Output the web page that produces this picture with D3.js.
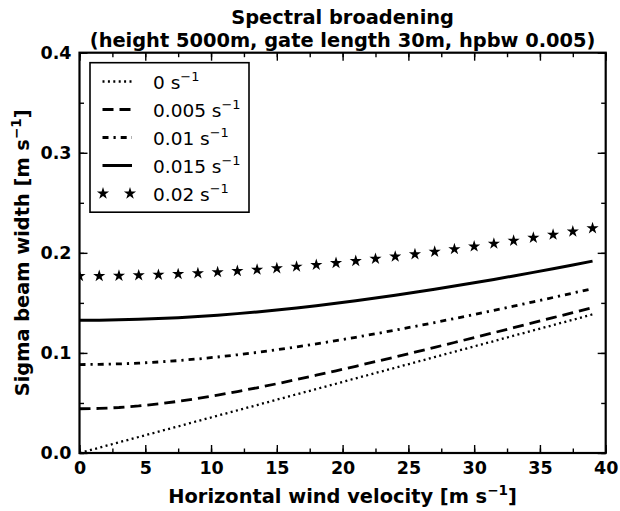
<!DOCTYPE html>
<html>
<head>
<meta charset="utf-8">
<script src="https://cdn.jsdelivr.net/npm/d3@7"></script>
<style>
  html, body { margin: 0; padding: 0; background: #fff; }
  svg { display: block; font-family: "DejaVu Sans", sans-serif; }
</style>
</head>
<body>
<svg id="chart" width="620" height="511"></svg>
<script>
// Horizontal wind velocity samples [m s^-1]
const velocity = [0, 1.5, 3, 4.5, 6, 7.5, 9, 10.5, 12, 13.5, 15, 16.5, 18, 19.5, 21,
  22.5, 24, 25.5, 27, 28.5, 30, 31.5, 33, 34.5, 36, 37.5, 39];

// Sigma beam width [m s^-1] for each shear value
const shear0 = [0, 0.0053, 0.0107, 0.0160, 0.0213, 0.0266, 0.0320, 0.0373, 0.0426, 0.0479,
  0.0533, 0.0586, 0.0639, 0.0692, 0.0746, 0.0799, 0.0852, 0.0905, 0.0959, 0.1012, 0.1065,
  0.1118, 0.1172, 0.1225, 0.1278, 0.1331, 0.1385];
const shear005 = [0.0442, 0.04452, 0.04546, 0.04700, 0.04906, 0.05160, 0.05454, 0.05782,
  0.06139, 0.06520, 0.06920, 0.07338, 0.07770, 0.08213, 0.08667, 0.09129, 0.09598, 0.10074,
  0.10555, 0.11041, 0.11531, 0.12024, 0.12521, 0.13021, 0.13523, 0.14027, 0.14533];
const shear01 = [0.0884, 0.08856, 0.08904, 0.08983, 0.09093, 0.09232, 0.09400, 0.09594,
  0.09813, 0.10056, 0.10320, 0.10605, 0.10908, 0.11228, 0.11564, 0.11914, 0.12277, 0.12653,
  0.13039, 0.13436, 0.13841, 0.14255, 0.14676, 0.15105, 0.15539, 0.15980, 0.16427];
const shear015 = [0.1326, 0.13271, 0.13303, 0.13356, 0.13430, 0.13525, 0.13640, 0.13774,
  0.13927, 0.14099, 0.14289, 0.14496, 0.14719, 0.14958, 0.15212, 0.15480, 0.15761, 0.16055,
  0.16362, 0.16679, 0.17007, 0.17346, 0.17694, 0.18051, 0.18416, 0.18790, 0.19171];
const shear02 = [0.1768, 0.17688, 0.17712, 0.17752, 0.17808, 0.17879, 0.17966, 0.18069,
  0.18186, 0.18318, 0.18465, 0.18625, 0.18799, 0.18987, 0.19187, 0.19401, 0.19626, 0.19863,
  0.20111, 0.20370, 0.20640, 0.20920, 0.21209, 0.21508, 0.21815, 0.22132, 0.22456];

const seriesLabels = ["0", "0.005", "0.01", "0.015", "0.02"];
const xTicks = [0, 5, 10, 15, 20, 25, 30, 35, 40];
const yTicks = [0.0, 0.1, 0.2, 0.3, 0.4];

const styles = [
  { kind: "line", dash: "2,3.4", width: 2.3 },
  { kind: "line", dash: "11,6", width: 2.8 },
  { kind: "line", dash: "6,5,2.2,5", width: 2.8 },
  { kind: "line", dash: null, width: 3 },
  { kind: "star" }
];
const seriesValues = [shear0, shear005, shear01, shear015, shear02];

const svg = d3.select("#chart");
const plot = { left: 79.5, right: 605.7, top: 52.7, bottom: 453 };

const x = d3.scaleLinear().domain([0, 40]).range([plot.left, plot.right]);
const y = d3.scaleLinear().domain([0, 0.4]).range([plot.bottom, plot.top]);

svg.append("clipPath").attr("id", "plotclip")
  .append("rect")
  .attr("x", plot.left).attr("y", plot.top)
  .attr("width", plot.right - plot.left).attr("height", plot.bottom - plot.top);

// Data
const dataLayer = svg.append("g").attr("clip-path", "url(#plotclip)");
const line = d3.line().x(d => x(d[0])).y(d => y(d[1]));
const star = d3.symbol().type(d3.symbolStar).size(46);

seriesValues.forEach((vals, i) => {
  const st = styles[i];
  const pts = velocity.map((v, j) => [v, vals[j]]);
  if (st.kind === "line") {
    dataLayer.append("path")
      .datum(pts)
      .attr("d", line)
      .attr("fill", "none")
      .attr("stroke", "#000")
      .attr("stroke-width", st.width)
      .attr("stroke-dasharray", st.dash);
  } else {
    dataLayer.selectAll(null).data(pts).enter().append("path")
      .attr("d", star)
      .attr("transform", d => `translate(${x(d[0])},${y(d[1])})`)
      .attr("fill", "#000");
  }
});

// Axes with inward ticks on all four sides
const tickStroke = 1.4;
const tickFont = 17.5;
function styleAxis(g) {
  g.select(".domain").remove();
  g.selectAll("line").attr("stroke", "#000").attr("stroke-width", tickStroke);
}
function styleLabels(g) {
  g.selectAll("text").attr("font-size", tickFont).attr("font-weight", "bold")
    .attr("font-family", "DejaVu Sans").attr("fill", "#000");
}
const xMinor = d3.range(0, 40.01, 2.5);
const yMinor = d3.range(0, 0.4001, 0.05);

svg.append("g").attr("transform", `translate(0,${plot.bottom})`)
  .call(d3.axisBottom(x).tickValues(xTicks).tickSizeInner(-8).tickSizeOuter(0).tickPadding(9)
    .tickFormat(d3.format("d")))
  .call(styleAxis).call(styleLabels);
svg.append("g").attr("transform", `translate(0,${plot.bottom})`)
  .call(d3.axisBottom(x).tickValues(xMinor).tickSizeInner(-4.5).tickSizeOuter(0).tickFormat(""))
  .call(styleAxis);
svg.append("g").attr("transform", `translate(0,${plot.top})`)
  .call(d3.axisTop(x).tickValues(xTicks).tickSizeInner(-8).tickSizeOuter(0).tickFormat(""))
  .call(styleAxis);
svg.append("g").attr("transform", `translate(0,${plot.top})`)
  .call(d3.axisTop(x).tickValues(xMinor).tickSizeInner(-4.5).tickSizeOuter(0).tickFormat(""))
  .call(styleAxis);

svg.append("g").attr("transform", `translate(${plot.left},0)`)
  .call(d3.axisLeft(y).tickValues(yTicks).tickSizeInner(-8).tickSizeOuter(0).tickPadding(8)
    .tickFormat(d3.format(".1f")))
  .call(styleAxis).call(styleLabels);
svg.append("g").attr("transform", `translate(${plot.left},0)`)
  .call(d3.axisLeft(y).tickValues(yMinor).tickSizeInner(-4.5).tickSizeOuter(0).tickFormat(""))
  .call(styleAxis);
svg.append("g").attr("transform", `translate(${plot.right},0)`)
  .call(d3.axisRight(y).tickValues(yTicks).tickSizeInner(-8).tickSizeOuter(0).tickFormat(""))
  .call(styleAxis);
svg.append("g").attr("transform", `translate(${plot.right},0)`)
  .call(d3.axisRight(y).tickValues(yMinor).tickSizeInner(-4.5).tickSizeOuter(0).tickFormat(""))
  .call(styleAxis);

// Frame
svg.append("rect")
  .attr("x", plot.left).attr("y", plot.top)
  .attr("width", plot.right - plot.left).attr("height", plot.bottom - plot.top)
  .attr("fill", "none").attr("stroke", "#000").attr("stroke-width", 2.2);

// Title
const cx = (plot.left + plot.right) / 2;
const title = svg.append("text").attr("text-anchor", "middle")
  .attr("font-size", 19.4).attr("font-weight", "bold").attr("fill", "#000");
title.append("tspan").attr("x", cx).attr("y", 24).text("Spectral broadening");
title.append("tspan").attr("x", cx).attr("y", 46.5).text("(height 5000m, gate length 30m, hpbw 0.005)");

// Unit label helper: "[m s⁻¹]" with a raised exponent
function unitText(sel, base) {
  sel.append("tspan").text(base + " [m s");
  sel.append("tspan").attr("font-size", "0.7em").attr("dy", -8).text("\u22121");
  sel.append("tspan").attr("dy", 8).text("]");
}

svg.append("text").attr("x", cx).attr("y", 503).attr("text-anchor", "middle")
  .attr("font-size", 19.4).attr("font-weight", "bold").attr("fill", "#000")
  .call(unitText, "Horizontal wind velocity");

svg.append("text")
  .attr("transform", `translate(29,${(plot.top + plot.bottom) / 2}) rotate(-90)`)
  .attr("text-anchor", "middle")
  .attr("font-size", 19.4).attr("font-weight", "bold").attr("fill", "#000")
  .call(unitText, "Sigma beam width");

// Legend
const legend = svg.append("g");
legend.append("rect")
  .attr("x", 90).attr("y", 62.7).attr("width", 159).attr("height", 149.5)
  .attr("fill", "#fff").attr("stroke", "#000").attr("stroke-width", 1.6);

seriesLabels.forEach((lab, i) => {
  const yy = 81.5 + i * 28;
  const st = styles[i];
  if (st.kind === "line") {
    legend.append("line")
      .attr("x1", 102.5).attr("x2", 132).attr("y1", yy).attr("y2", yy)
      .attr("stroke", "#000").attr("stroke-width", st.width)
      .attr("stroke-dasharray", st.dash);
  } else {
    [103, 130].forEach(px => legend.append("path")
      .attr("d", star).attr("transform", `translate(${px},${yy})`).attr("fill", "#000"));
  }
  const t = legend.append("text").attr("x", 153).attr("y", yy + 7)
    .attr("font-size", 18.5).attr("fill", "#000");
  t.append("tspan").text(lab + " s");
  t.append("tspan").attr("font-size", "0.7em").attr("dy", -8).text("\u22121");
});
</script>
</body>
</html>
